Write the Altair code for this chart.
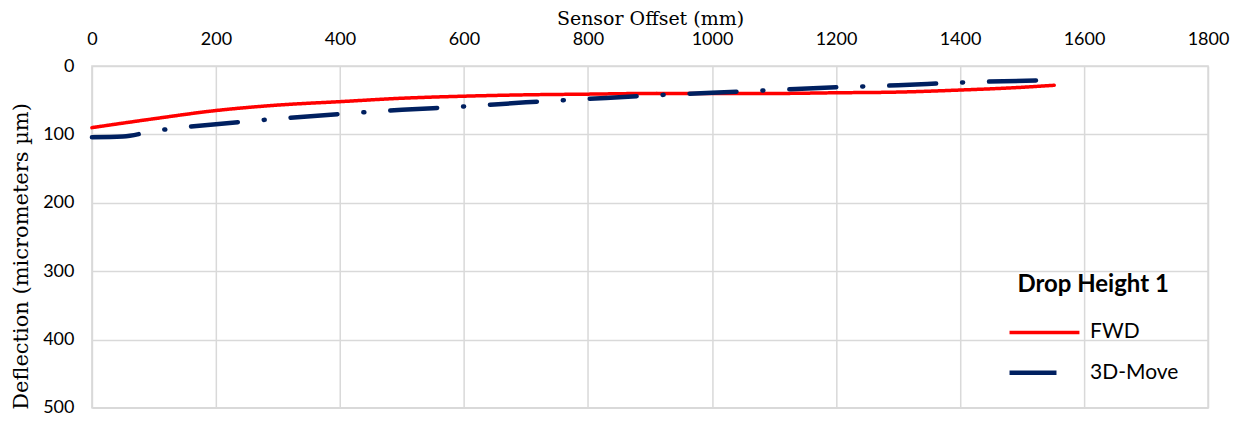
import altair as alt
import pandas as pd

fwd_x = [0, 100, 200, 300, 400, 500, 600, 700, 800, 900, 1000, 1100, 1200, 1300, 1400, 1500, 1552]
fwd_y = [90, 77, 65, 57, 52, 47, 44, 42, 41, 40, 40, 40, 39, 38, 35, 31, 28]
mv_x = [0, 50, 100, 200, 300, 400, 500, 600, 700, 800, 900, 1000, 1100, 1200, 1300, 1400, 1527]
mv_y = [104, 103, 95, 85, 77, 70, 64, 59, 53, 48, 43, 39, 35, 31, 28, 24, 21]
series = ["FWD", "3D-Move"]
x_ticks = [0, 200, 400, 600, 800, 1000, 1200, 1400, 1600, 1800]
y_ticks = [0, 100, 200, 300, 400, 500]

rows = []
for i, (xv, yv) in enumerate(zip(fwd_x, fwd_y)):
    rows.append({"s": "FWD", "x": xv, "y": yv, "o": i})
for i, (xv, yv) in enumerate(zip(mv_x, mv_y)):
    rows.append({"s": "3D-Move", "x": xv, "y": yv, "o": i})
df = pd.DataFrame(rows)

sans = "Lato"
serif = "DejaVu Serif"

chart = alt.Chart(df).mark_line(interpolate="monotone", strokeCap="round").encode(
    x=alt.X("x:Q", scale=alt.Scale(domain=[0, 1800], nice=False),
            axis=alt.Axis(orient="top", values=x_ticks, format="d", title="Sensor Offset (mm)",
                          titleFont=serif, titleFontSize=19, titleFontWeight="normal",
                          titleColor="#000", labelFont=sans, labelFontSize=18,
                          labelColor="#000", ticks=False, domain=False, labelPadding=18,
                          titlePadding=2, gridColor="#d9d9d9", gridWidth=1.5,
                          labelFlush=False)),
    y=alt.Y("y:Q", scale=alt.Scale(domain=[0, 500], reverse=True, nice=False),
            axis=alt.Axis(values=y_ticks, title="Deflection (micrometers µm)",
                          titleFont=serif, titleFontSize=21, titleFontWeight="normal",
                          titleColor="#000", labelFont=sans, labelFontSize=18,
                          labelColor="#000", ticks=False, domain=False, labelPadding=18,
                          titlePadding=11, titleY=190, gridColor="#d9d9d9", gridWidth=1.5)),
    color=alt.Color("s:N", scale=alt.Scale(domain=series, range=["#ff0000", "#002060"]),
                    legend=alt.Legend(title="Drop Height 1", orient="none",
                                      legendX=916, legendY=207, titleAnchor="middle",
                                      titleFont=sans, titleFontSize=24, titleFontWeight="bold",
                                      titleColor="#000", labelFont=sans, labelFontSize=21,
                                      labelColor="#000", symbolType="M-1,0H5",
                                      symbolSize=544, symbolStrokeWidth=4,
                                      titlePadding=22, rowPadding=16, labelOffset=55)),
    strokeDash=alt.StrokeDash("s:N", scale=alt.Scale(domain=series, range=[[1, 0], [47, 26, 1, 26]]),
                              legend=alt.Legend(title="Drop Height 1")),
    strokeWidth=alt.StrokeWidth("s:N", scale=alt.Scale(domain=series, range=[3.5, 4.5]), legend=None),
    order="o:Q",
).properties(
    width=1117, height=342,
    autosize=alt.AutoSizeParams(type="none"),
    padding={"left": 84, "top": 58, "right": 30, "bottom": 10},
).configure_view(stroke="#d9d9d9", strokeWidth=1.5)

chart.save("out.html", embed_options={"renderer": "svg", "actions": False})
